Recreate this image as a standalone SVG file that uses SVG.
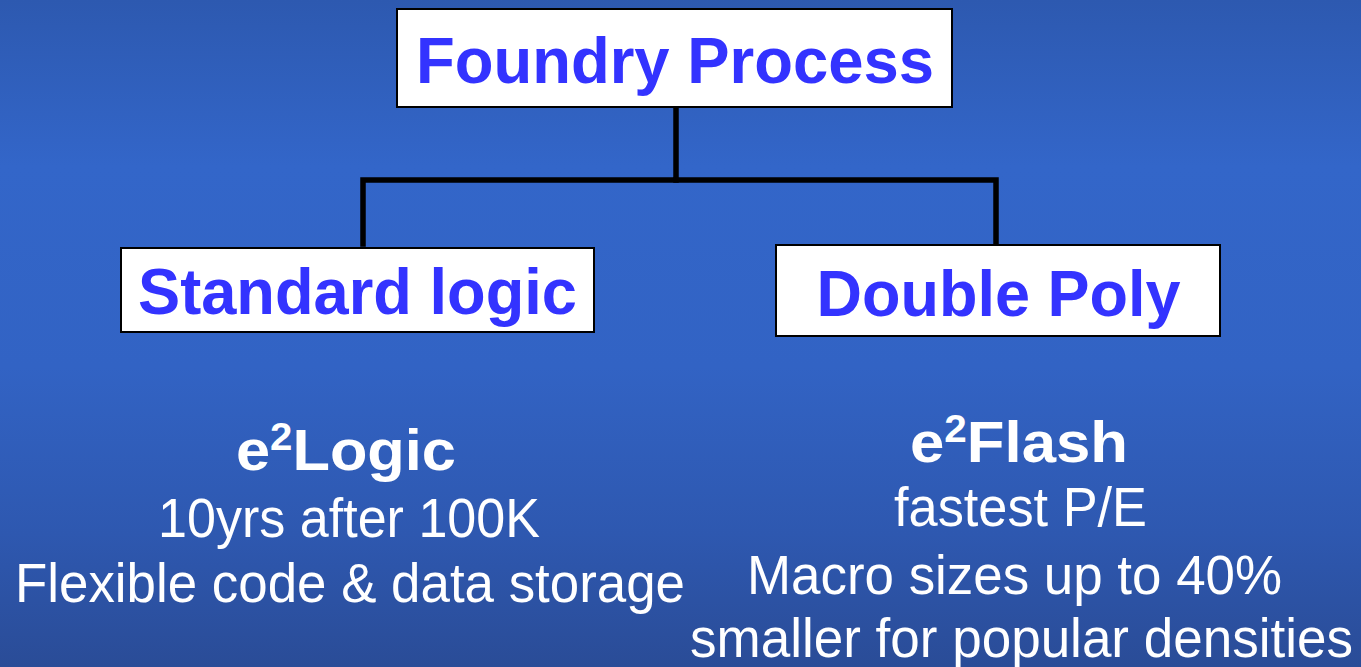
<svg xmlns="http://www.w3.org/2000/svg" width="1361" height="667" viewBox="0 0 1361 667">
<defs>
<linearGradient id="bg" x1="0" y1="0" x2="0" y2="1">
<stop offset="0" stop-color="#2d59b0"/>
<stop offset="0.25" stop-color="#3366c9"/>
<stop offset="0.55" stop-color="#3263c4"/>
<stop offset="0.8" stop-color="#2e58b0"/>
<stop offset="1" stop-color="#2a4c97"/>
</linearGradient>
</defs>
<style>
.box{fill:#ffffff;stroke:#000000;stroke-width:2}
.title{font-family:"Liberation Sans",Arial,sans-serif;font-weight:bold;fill:#3333ff;text-anchor:middle}
.head{font-family:"Liberation Sans",Arial,sans-serif;font-weight:bold;fill:#ffffff;font-size:58px}
.body{font-family:"Liberation Sans",Arial,sans-serif;fill:#ffffff;font-size:55px}
.conn{fill:none;stroke:#000000;stroke-width:5.5;stroke-linecap:square}
</style>
<rect x="0" y="0" width="1361" height="667" fill="url(#bg)"/>
<g id="connectors">
<polyline class="conn" points="676,108 676,180 363,180 363,244"/>
<polyline class="conn" points="676,180 996,180 996,242"/>
</g>
<g id="foundry">
<rect class="box" x="397" y="9" width="555" height="98"/>
<text class="title" x="675" y="83" font-size="65" textLength="518" lengthAdjust="spacingAndGlyphs">Foundry Process</text>
</g>
<g id="standard">
<rect class="box" x="121" y="248" width="473" height="84"/>
<text class="title" x="357.5" y="314" font-size="64" textLength="439" lengthAdjust="spacingAndGlyphs">Standard logic</text>
</g>
<g id="double">
<rect class="box" x="776" y="245" width="444" height="91"/>
<text class="title" x="998.5" y="316" font-size="64" textLength="364" lengthAdjust="spacingAndGlyphs">Double Poly</text>
</g>
<g id="e2logic">
<text class="head" x="236" y="470" textLength="220" lengthAdjust="spacingAndGlyphs">e<tspan font-size="38" dy="-20">2</tspan><tspan dy="20">Logic</tspan></text>
<text class="body" x="158" y="537" textLength="382" lengthAdjust="spacingAndGlyphs">10yrs after 100K</text>
<text class="body" x="15" y="602" textLength="670" lengthAdjust="spacingAndGlyphs">Flexible code &amp; data storage</text>
</g>
<g id="e2flash">
<text class="head" x="910" y="462" textLength="218" lengthAdjust="spacingAndGlyphs">e<tspan font-size="38" dy="-20">2</tspan><tspan dy="20">Flash</tspan></text>
<text class="body" x="894" y="526" textLength="253" lengthAdjust="spacingAndGlyphs">fastest P/E</text>
<text class="body" x="747" y="594" textLength="535" lengthAdjust="spacingAndGlyphs">Macro sizes up to 40%</text>
<text class="body" x="690" y="657" textLength="663" lengthAdjust="spacingAndGlyphs">smaller for popular densities</text>
</g>
</svg>
